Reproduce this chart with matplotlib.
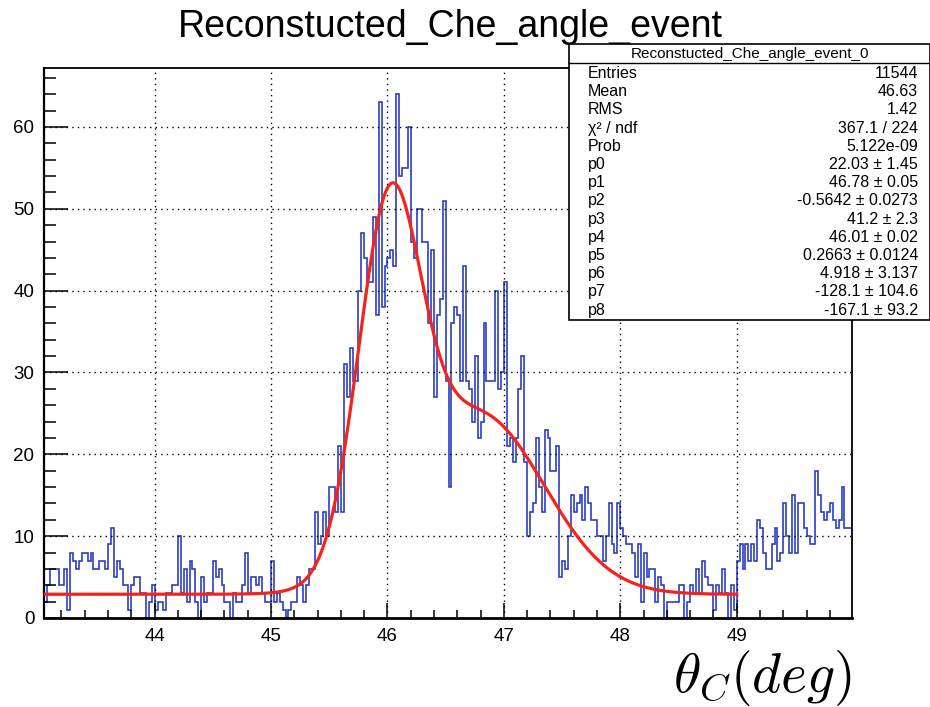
import numpy as np
import matplotlib
matplotlib.use("Agg")
import matplotlib.pyplot as plt
from matplotlib.ticker import MultipleLocator

plt.rcParams['font.family'] = ['Liberation Sans', 'DejaVu Sans']
plt.rcParams['mathtext.fontset'] = 'cm'

# ---------------- data ----------------
title = "Reconstucted_Che_angle_event"
hist_name = "Reconstucted_Che_angle_event_0"
x_low = 43.05
x_high = 49.99
bin_width = 0.025
counts = [
    2, 4, 6, 6, 6, 4, 4, 6, 1, 8,
    7, 6, 7, 8, 8, 7, 8, 6, 6, 7,
    7, 6, 9, 11, 5, 7, 6, 4, 4, 1,
    4, 5, 5, 3, 3, 0, 2, 4, 1, 2,
    2, 1, 3, 3, 4, 4, 10, 3, 6, 2,
    7, 6, 2, 0, 5, 2, 3, 3, 7, 5,
    6, 4, 2, 2, 0, 3, 2, 2, 4, 8,
    3, 5, 5, 4, 5, 3, 2, 2, 7, 2,
    3, 2, 1, 0, 1, 2, 2, 5, 4, 2,
    4, 6, 6, 13, 9, 10, 13, 10, 16, 16,
    13, 21, 13, 31, 27, 33, 29, 29, 40, 47,
    44, 41, 41, 49, 37, 63, 38, 43, 44, 45,
    43, 64, 54, 55, 55, 60, 46, 44, 50, 50,
    46, 46, 36, 45, 27, 37, 39, 51, 29, 16,
    36, 38, 37, 29, 43, 29, 28, 24, 32, 22,
    24, 36, 29, 29, 29, 40, 28, 30, 41, 21,
    22, 19, 22, 28, 32, 19, 10, 13, 14, 22,
    16, 13, 23, 22, 18, 18, 21, 5, 7, 6,
    10, 15, 13, 14, 15, 12, 16, 14, 12, 12,
    10, 10, 7, 10, 14, 9, 8, 14, 11, 10,
    9, 9, 8, 5, 9, 2, 8, 5, 6, 6,
    2, 5, 4, 0, 2, 2, 2, 2, 4, 4,
    0, 2, 4, 3, 6, 3, 7, 5, 4, 4,
    1, 4, 3, 6, 3, 0, 4, 1, 7, 9,
    6, 9, 7, 9, 7, 12, 11, 8, 6, 6,
    9, 11, 7, 8, 14, 10, 8, 15, 8, 14,
    14, 11, 10, 9, 9, 18, 15, 13, 12, 13,
    14, 12, 11, 12, 16, 11, 11, 11,
]

# fit results shown in the stats box
p0, p1, p2 = 22.03, 46.78, -0.5642
p3, p4, p5 = 41.2, 46.01, 0.2663
fit_background = 2.9          # flat level of the red curve
fit_range = (43.05, 49.0)

stat_labels = ["Entries", "Mean", "RMS", "χ² / ndf", "Prob",
               "p0", "p1", "p2", "p3", "p4", "p5", "p6", "p7", "p8"]
stat_values = ["11544", "46.63", "1.42", "367.1 / 224", "5.122e-09",
               "22.03 ± 1.45", "46.78 ± 0.05", "-0.5642 ± 0.0273",
               "41.2 ± 2.3", "46.01 ± 0.02", "0.2663 ± 0.0124",
               "4.918 ± 3.137", "-128.1 ± 104.6", "-167.1 ± 93.2"]

x_label = r"$\theta_{C}(deg)$"

# ---------------- figure ----------------
W, H = 930, 707
fig = plt.figure(figsize=(W / 100, H / 100), dpi=100)
ax = fig.add_axes([44 / W, 1 - 618 / H, (852 - 44) / W, (618 - 68) / H])

edges = x_low + bin_width * np.arange(len(counts) + 1)
ax.stairs(counts, edges, color="#2b3fc4", lw=1.2, baseline=None)

xf = np.linspace(fit_range[0], fit_range[1], 600)
yf = (p0 * np.exp(-0.5 * ((xf - p1) / p2) ** 2)
      + p3 * np.exp(-0.5 * ((xf - p4) / p5) ** 2)
      + fit_background)
ax.plot(xf, yf, color="#f5241a", lw=2.3, zorder=3)

ax.set_xlim(x_low, x_high)
ax.set_ylim(0, 1.05 * max(counts))

ax.xaxis.set_major_locator(MultipleLocator(1))
ax.xaxis.set_minor_locator(MultipleLocator(0.2))
ax.yaxis.set_major_locator(MultipleLocator(10))
ax.yaxis.set_minor_locator(MultipleLocator(2))
ax.tick_params(axis='x', which='major', direction='in', length=11, width=1.1,
               labelsize=13.5, pad=7)
ax.tick_params(axis='x', which='minor', direction='in', length=5.5, width=1.1)
ax.tick_params(axis='y', which='major', direction='in', length=17, width=1.1,
               labelsize=13.5, pad=7)
ax.tick_params(axis='y', which='minor', direction='in', length=8.5, width=1.1)
ax.grid(True, which='major', color='black', linestyle=(0, (1, 3)), lw=1.0)
for s in ax.spines.values():
    s.set_linewidth(1.3)
ax.spines['bottom'].set_linewidth(2.0)
ax.spines['left'].set_linewidth(1.6)

fig.text(450 / W, 1 - 27 / H, title, ha='center', va='center', fontsize=27)
fig.text(851 / W, 1 - 678 / H, x_label, ha='right', va='center', fontsize=40)

# stats box
bx0, by0, bx1, by1 = 569, 44, 930, 320
box = plt.Rectangle((bx0 / W, 1 - by1 / H), (bx1 - bx0) / W, (by1 - by0) / H,
                    transform=fig.transFigure, facecolor='white',
                    edgecolor='black', lw=1.2, zorder=10)
fig.add_artist(box)
fig.add_artist(plt.Line2D([bx0 / W, bx1 / W], [1 - 63 / H, 1 - 63 / H],
                          transform=fig.transFigure, color='black', lw=1.0,
                          zorder=11))
fig.text((bx0 + bx1) / 2 / W, 1 - 54 / H, hist_name, ha='center', va='center',
         fontsize=11, zorder=12)
row0, dy = 73.5, 18.2
for i, (lab, val) in enumerate(zip(stat_labels, stat_values)):
    yy = 1 - (row0 + i * dy) / H
    fig.text(588 / W, yy, lab, ha='left', va='center', fontsize=11.5, zorder=12)
    fig.text(918 / W, yy, val, ha='right', va='center', fontsize=11.5, zorder=12)

fig.savefig("out.png", dpi=100)
